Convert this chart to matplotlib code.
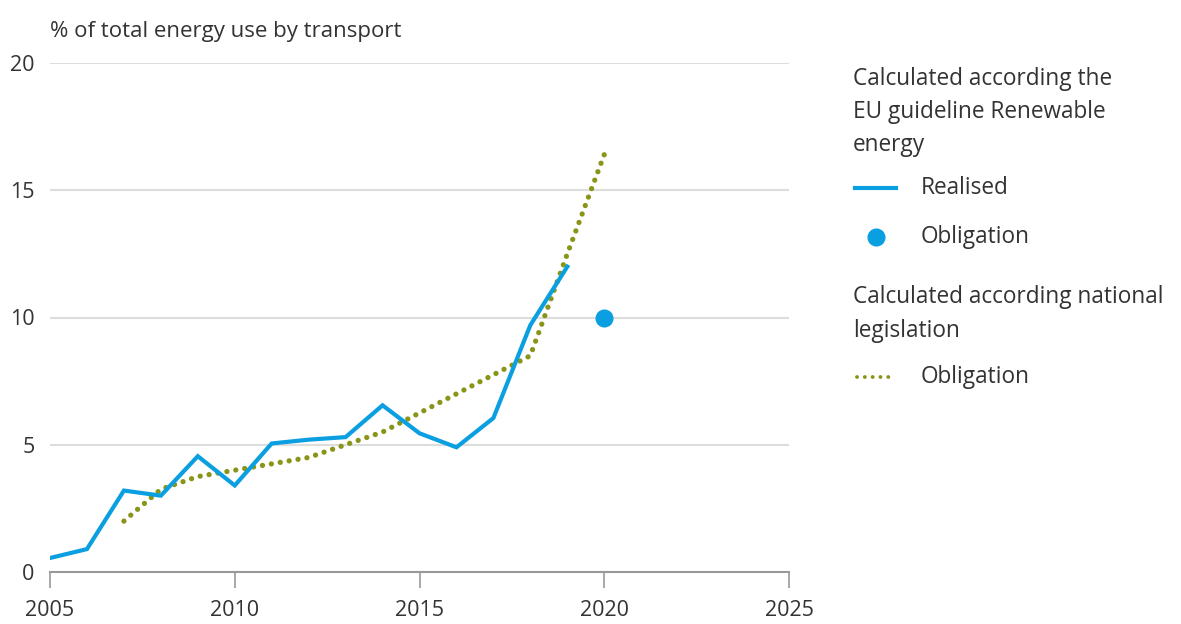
import matplotlib.pyplot as plt
from matplotlib.lines import Line2D

plt.rcParams['font.family'] = ['Open Sans', 'DejaVu Sans']

# data
years_realised = [2005, 2006, 2007, 2008, 2009, 2010, 2011, 2012, 2013, 2014, 2015, 2016, 2017, 2018, 2019]
realised = [0.55, 0.9, 3.2, 3.0, 4.55, 3.4, 5.05, 5.2, 5.3, 6.55, 5.45, 4.9, 6.05, 9.7, 12.0]

years_national = [2007, 2008, 2009, 2010, 2011, 2012, 2013, 2014, 2015, 2016, 2017, 2018, 2019, 2020]
national_obligation = [2.0, 3.25, 3.75, 4.0, 4.25, 4.5, 5.0, 5.5, 6.25, 7.0, 7.75, 8.5, 12.5, 16.4]

eu_year = [2020]
eu_obligation = [10]

blue = '#0a9fe0'
olive = '#8a9518'
text_col = '#333333'

fig = plt.figure(figsize=(11.81, 6.24), dpi=100)
ax = fig.add_axes([50 / 1181, 1 - 572 / 624, 739 / 1181, 509 / 624])

ax.plot(years_realised, realised, color=blue, lw=3, solid_joinstyle='miter', zorder=3)
ax.plot(years_national, national_obligation, color=olive, lw=3.8, linestyle=(0, (0.01, 1.7)),
        dash_capstyle='round', zorder=2)
ax.plot(eu_year, eu_obligation, 'o', color=blue, ms=12, zorder=4)

ax.set_xlim(2005, 2025)
ax.set_ylim(0, 20)
ax.set_xticks([2005, 2010, 2015, 2020, 2025])
ax.set_yticks([0, 5, 10, 15, 20])
for y in [5, 10, 15, 20]:
    ax.axhline(y, color='#dddddd', lw=1.5, zorder=1)

for s in ['top', 'right', 'left']:
    ax.spines[s].set_visible(False)
ax.spines['bottom'].set_color('#999999')
ax.spines['bottom'].set_linewidth(1.5)
ax.tick_params(axis='x', direction='out', length=11.5, width=1.2, color='#999999',
               pad=9, labelsize=15.5, labelcolor=text_col)
ax.tick_params(axis='y', length=0, pad=11, labelsize=15.5, labelcolor=text_col)

fig.text(50 / 1181, 1 - 31 / 624, '% of total energy use by transport', fontsize=16,
         color=text_col, va='center', ha='left')

# legend
lx = 853 / 1181
def fy(py):
    return 1 - py / 624

fs = 16.3
fig.text(lx, fy(112), 'Calculated according the\nEU guideline Renewable\nenergy', fontsize=fs,
         color=text_col, va='center', ha='left', linespacing=1.52)
fig.add_artist(Line2D([855 / 1181, 896 / 1181], [fy(188), fy(188)], color=blue, lw=3))
fig.text(921 / 1181, fy(188), 'Realised', fontsize=fs, color=text_col, va='center')
fig.add_artist(Line2D([876 / 1181], [fy(237)], marker='o', color=blue, ms=12))
fig.text(921 / 1181, fy(237), 'Obligation', fontsize=fs, color=text_col, va='center')
fig.text(lx, fy(314), 'Calculated according national\nlegislation', fontsize=fs,
         color=text_col, va='center', ha='left', linespacing=1.52)
fig.add_artist(Line2D([857 / 1181, 893 / 1181], [fy(377), fy(377)], color=olive, lw=2.8,
                      linestyle=(0, (0.01, 2.0)), dash_capstyle='round'))
fig.text(921 / 1181, fy(377), 'Obligation', fontsize=fs, color=text_col, va='center')

fig.savefig('out.png', dpi=100, facecolor='white')
